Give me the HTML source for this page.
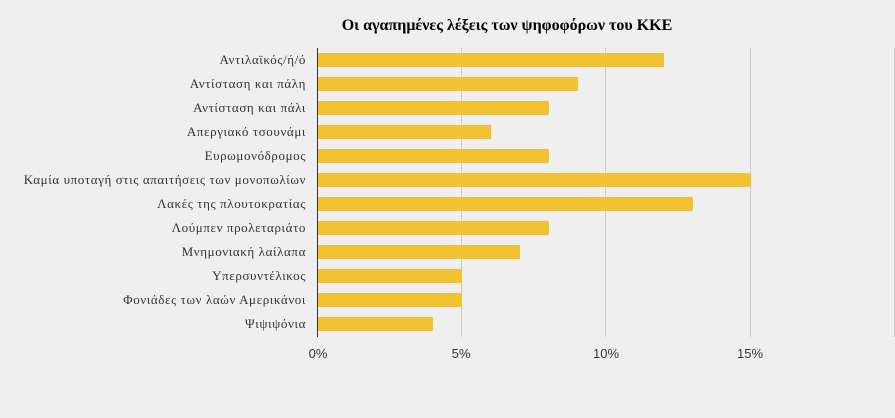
<!DOCTYPE html>
<html><head><meta charset="utf-8"><style>
body{margin:0;background:#efefef;}
</style></head><body>
<svg width="895" height="418" xmlns="http://www.w3.org/2000/svg" style="display:block">
<rect width="895" height="418" fill="#efefef"/>
<text x="507" y="30" text-anchor="middle" font-family="Liberation Serif, serif" font-weight="bold" font-size="16" fill="#000">Οι αγαπημένες λέξεις των ψηφοφόρων του ΚΚΕ</text>
<g stroke="#cccccc" stroke-width="1">
<line x1="461.5" y1="48" x2="461.5" y2="337"/>
<line x1="605.5" y1="48" x2="605.5" y2="337"/>
<line x1="750.5" y1="48" x2="750.5" y2="337"/>
<line x1="894.5" y1="48" x2="894.5" y2="337"/>
</g>
<g fill="#f2c232">
<rect x="318" y="53" width="346" height="14"/>
<rect x="318" y="77" width="260" height="14"/>
<rect x="318" y="101" width="231" height="14"/>
<rect x="318" y="125" width="173" height="14"/>
<rect x="318" y="149" width="231" height="14"/>
<rect x="318" y="173" width="433" height="14"/>
<rect x="318" y="197" width="375" height="14"/>
<rect x="318" y="221" width="231" height="14"/>
<rect x="318" y="245" width="202" height="14"/>
<rect x="318" y="269" width="144" height="14"/>
<rect x="318" y="293" width="144" height="14"/>
<rect x="318" y="317" width="115" height="14"/>
</g>
<line x1="317.5" y1="48" x2="317.5" y2="337" stroke="#333" stroke-width="1"/>
<g font-family="Liberation Serif, serif" font-size="13" fill="#333" text-anchor="end" letter-spacing="0.6">
<text x="306" y="64">Αντιλαϊκός/ή/ό</text>
<text x="306" y="88">Αντίσταση και πάλη</text>
<text x="306" y="112">Αντίσταση και πάλι</text>
<text x="306" y="136">Απεργιακό τσουνάμι</text>
<text x="306" y="160">Ευρωμονόδρομος</text>
<text x="306" y="184">Καμία υποταγή στις απαιτήσεις των μονοπωλίων</text>
<text x="306" y="208">Λακές της πλουτοκρατίας</text>
<text x="306" y="232">Λούμπεν προλεταριάτο</text>
<text x="306" y="256">Μνημονιακή λαίλαπα</text>
<text x="306" y="280">Υπερσυντέλικος</text>
<text x="306" y="304">Φονιάδες των λαών Αμερικάνοι</text>
<text x="306" y="328">Ψιψιψόνια</text>
</g>
<g font-family="Liberation Sans Narrow, Liberation Sans, sans-serif" font-size="13" fill="#333" text-anchor="middle">
<text x="318" y="358">0%</text>
<text x="461" y="358">5%</text>
<text x="606" y="358">10%</text>
<text x="750" y="358">15%</text>
</g>
</svg>
</body></html>
